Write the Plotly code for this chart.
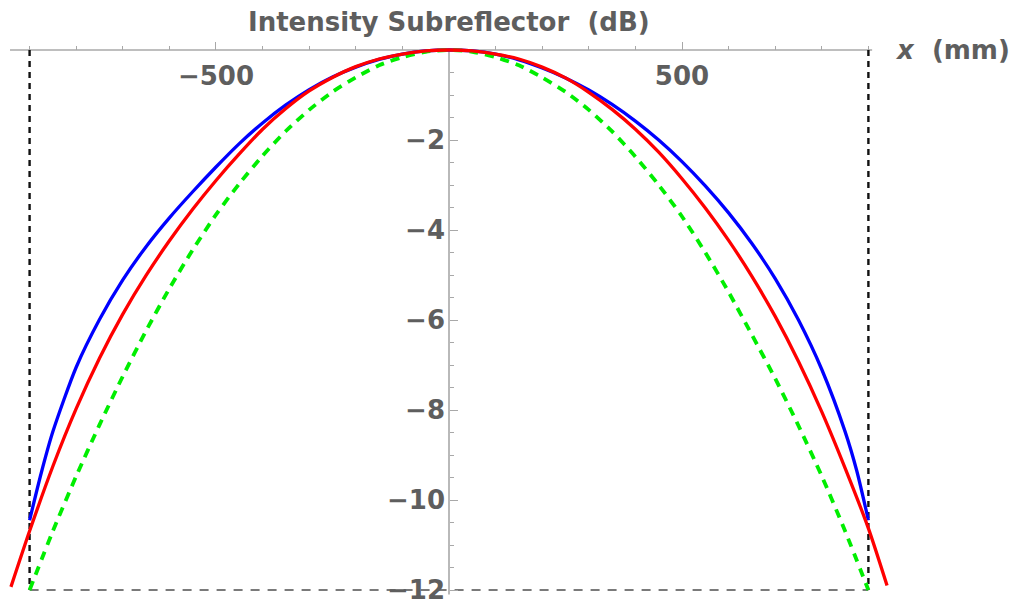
import plotly.graph_objects as go

# ---------------- data ----------------
x_blue = [-900, -875, -850, -800, -750, -700, -650, -600, -550, -500, -450, -400, -350, -300,
          -250, -200, -150, -100, -50, 0, 50, 100, 150, 200, 250, 300, 350, 400, 450, 500,
          550, 600, 650, 700, 750, 800, 850, 875, 900]
blue_db = [-10.45, -9.40, -8.48, -7.05, -5.99, -5.11, -4.37, -3.73, -3.15, -2.60, -2.08, -1.62, -1.22, -0.88,
           -0.60, -0.38, -0.21, -0.09, -0.02, 0.0, -0.02, -0.09, -0.22, -0.40, -0.62, -0.89, -1.21, -1.58, -2.00, -2.48,
           -3.02, -3.62, -4.30, -5.08, -6.00, -7.10, -8.48, -9.35, -10.45]

x_red = [-940, -900, -850, -800, -750, -700, -650, -600, -550, -500, -450, -400, -350, -300,
         -250, -200, -150, -100, -50, 0, 50, 100, 150, 200, 250, 300, 350, 400, 450, 500,
         550, 600, 650, 700, 750, 800, 850, 900, 940]
red_db = [-11.93, -10.69, -9.25, -7.97, -6.85, -5.87, -5.01, -4.24, -3.54, -2.90, -2.31, -1.76, -1.30, -0.91,
          -0.61, -0.37, -0.20, -0.09, -0.02, 0.0, -0.02, -0.09, -0.20, -0.38, -0.62, -0.94, -1.32, -1.76, -2.27, -2.86,
          -3.51, -4.23, -5.03, -5.92, -6.92, -8.04, -9.29, -10.63, -11.90]

x_green = [-900, -850, -800, -750, -700, -650, -600, -550, -500, -450, -400, -350, -300, -250,
           -200, -150, -100, -50, 0, 50, 100, 150, 200, 250, 300, 350, 400, 450, 500, 550,
           600, 650, 700, 750, 800, 850, 900]
green_db = [-12.0, -10.69, -9.47, -8.33, -7.25, -6.24, -5.30, -4.44, -3.66, -2.97, -2.35, -1.80, -1.33, -0.93,
            -0.61, -0.34, -0.16, -0.04, 0.0, -0.04, -0.16, -0.34, -0.61, -0.93, -1.33, -1.81, -2.37, -3.00, -3.70, -4.50,
            -5.38, -6.33, -7.30, -8.35, -9.47, -10.69, -12.0]

x_major_ticks = [-500, 500]
x_major_labels = ["\u2212500", "500"]
x_minor_ticks = [-900, -800, -700, -600, -400, -300, -200, -100, 100, 200, 300, 400, 600, 700, 800, 900]
y_major_ticks = [-2, -4, -6, -8, -10, -12]
y_major_labels = ["\u22122", "\u22124", "\u22126", "\u22128", "\u221210", "\u221212"]
y_minor_ticks = [-0.5, -1, -1.5, -2.5, -3, -3.5, -4.5, -5, -5.5, -6.5, -7, -7.5, -8.5, -9, -9.5,
                 -10.5, -11, -11.5]

aperture = [-900, 900]      # dashed boundary lines
floor_db = -12
axis_x_extent = [-942, 908]
axis_y_extent = [0, -12.1]

title_text = "Intensity Subreflector\u00a0\u00a0(dB)"
xlabel_text = "<i>x</i>\u00a0\u00a0(mm)"

# ---------------- figure ----------------
W, H = 1011, 605
X_RANGE = [-963.5, 1206.0]
Y_RANGE = [-12.333, 1.111]
GRAY_TXT = "#5e5e5e"
AXIS_COL = "#a8a8a8"
FONT = "DejaVu Sans"

fig = go.Figure()

fig.add_trace(go.Scatter(x=x_blue, y=blue_db, mode="lines",
                         line=dict(color="#0000ff", width=3.3, shape="spline", smoothing=0.7),
                         hoverinfo="skip", showlegend=False))
fig.add_trace(go.Scatter(x=x_green, y=green_db, mode="lines",
                         line=dict(color="#00ee00", width=3.8, dash="9px,7px", shape="spline", smoothing=0.7),
                         hoverinfo="skip", showlegend=False))
fig.add_trace(go.Scatter(x=x_red, y=red_db, mode="lines",
                         line=dict(color="#ff0000", width=3.3, shape="spline", smoothing=0.7),
                         hoverinfo="skip", showlegend=False))

# axis lines
fig.add_shape(type="line", x0=axis_x_extent[0], x1=axis_x_extent[1], y0=0, y1=0,
              line=dict(color=AXIS_COL, width=1.6), layer="below")
fig.add_shape(type="line", x0=0, x1=0, y0=axis_y_extent[0], y1=axis_y_extent[1],
              line=dict(color=AXIS_COL, width=1.6), layer="below")
# dashed boundaries
for xv in aperture:
    fig.add_shape(type="line", x0=xv, x1=xv, y0=0, y1=floor_db,
                  line=dict(color="#111111", width=2.4, dash="6px,5px"), layer="below")
fig.add_shape(type="line", x0=aperture[0], x1=aperture[1], y0=floor_db, y1=floor_db,
              line=dict(color="#7a7a7a", width=2, dash="9px,8px"), layer="below")

# title and x label
fig.add_annotation(x=0, y=0.62, xref="x", yref="y", text="<b>" + title_text + "</b>", showarrow=False,
                   xanchor="center", yanchor="middle", font=dict(family=FONT, size=26, color=GRAY_TXT))
fig.add_annotation(x=953, y=0.0, xref="x", yref="y", text="<b>" + xlabel_text + "</b>", showarrow=False,
                   xanchor="left", yanchor="middle", font=dict(family=FONT, size=26, color=GRAY_TXT))

y0_frac = (0 - Y_RANGE[0]) / (Y_RANGE[1] - Y_RANGE[0])
x0_frac = (0 - X_RANGE[0]) / (X_RANGE[1] - X_RANGE[0])

fig.update_layout(
    width=W, height=H,
    margin=dict(l=0, r=0, t=0, b=0, pad=0),
    paper_bgcolor="white", plot_bgcolor="white",
    showlegend=False,
    xaxis=dict(range=X_RANGE, showgrid=False, zeroline=False, showline=False,
               anchor="free", position=y0_frac, side="bottom", automargin=False,
               tickmode="array", tickvals=x_major_ticks, ticktext=x_major_labels,
               ticks="inside", ticklen=8, tickwidth=1.4, tickcolor=AXIS_COL,
               ticklabelstandoff=8, ticklabeloverflow="allow",
               tickfont=dict(family=FONT, size=26, color=GRAY_TXT, weight="bold"),
               minor=dict(tickmode="array", tickvals=x_minor_ticks, ticks="inside", ticklen=4,
                          tickwidth=1.2, tickcolor=AXIS_COL, showgrid=False)),
    yaxis=dict(range=Y_RANGE, showgrid=False, zeroline=False, showline=False,
               anchor="free", position=x0_frac, side="left", automargin=False,
               tickmode="array", tickvals=y_major_ticks, ticktext=y_major_labels,
               ticks="inside", ticklen=8, tickwidth=1.4, tickcolor=AXIS_COL,
               ticklabelstandoff=4, ticklabeloverflow="allow",
               tickfont=dict(family=FONT, size=26, color=GRAY_TXT, weight="bold"),
               minor=dict(tickmode="array", tickvals=y_minor_ticks, ticks="inside", ticklen=4,
                          tickwidth=1.2, tickcolor=AXIS_COL, showgrid=False)),
)

fig.write_html("out.html")
